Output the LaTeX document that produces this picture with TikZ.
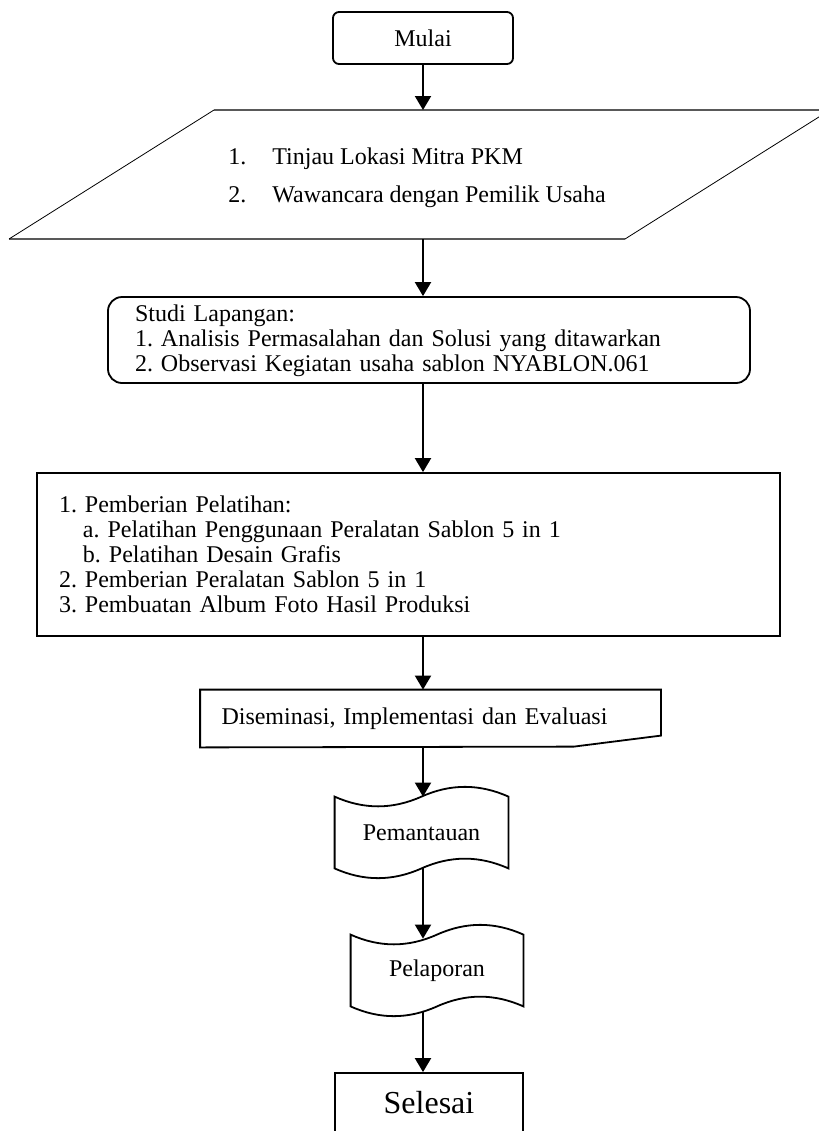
\documentclass[tikz,border=0pt]{standalone}
\usepackage{fontspec}
\setmainfont{Liberation Serif}
\usetikzlibrary{arrows.meta,calc}

\tikzset{
  txt/.style={font=\fontsize{12}{12.5}\selectfont, inner sep=0pt},
  boxline/.style={line width=0.9pt},
  flowarrow/.style={line width=1pt, -{Triangle[width=8pt,length=7pt]}},
}

\begin{document}
\frenchspacing
\begin{tikzpicture}[x=0.5pt,y=-0.5pt]
\useasboundingbox (0,0) rectangle (819,1131);

\node[txt, draw, boxline, rounded corners=3pt, minimum width=90pt, minimum height=26pt] (mulai) at (423,38) {Mulai};

\draw[black!65, line width=0.6pt] (214,110) -- (830,110);
\draw[black!65, line width=0.6pt] (9,239) -- (625,239);
\draw[line width=0.4pt] (214,110) -- (9,239);
\draw[line width=0.4pt] (830,110) -- (625,239);
\coordinate (paratop) at (423,110);
\coordinate (parabot) at (423,239);
\node[txt, anchor=west, align=left, font=\fontsize{12}{19}\selectfont] (tinjau) at (228,178)
  {\makebox[22pt][l]{1.}Tinjau Lokasi Mitra PKM\\\makebox[22pt][l]{2.}Wawancara dengan Pemilik Usaha};

\node[txt, draw, boxline, rounded corners=7pt, minimum width=321pt, minimum height=43pt,
  text width=294pt, inner xsep=13.5pt, align=left] (studi) at (429,340)
  {\strut Studi Lapangan:\\1. Analisis Permasalahan dan Solusi yang ditawarkan\\2. Observasi Kegiatan usaha sablon NYABLON.061};

\node[txt, draw, boxline, minimum width=371.5pt, minimum height=81.5pt,
  text width=349.5pt, inner xsep=11pt, align=left] (latih) at (408.5,554.5)
  {1. Pemberian Pelatihan:\\
   \hspace*{12pt}a. Pelatihan Penggunaan Peralatan Sablon 5 in 1\\
   \hspace*{12pt}b. Pelatihan Desain Grafis\\
   2. Pemberian Peralatan Sablon 5 in 1\\
   3. Pembuatan Album Foto Hasil Produksi};

\node[txt, minimum width=219.5pt, minimum height=28.5pt, text width=209pt, inner xsep=10.5pt, align=left] (dis) at (430.5,718.5)
  {Diseminasi, Implementasi dan Evaluasi};
\draw[boxline] (dis.north west) -- (dis.north east) -- ++(0,46) -- ++(-87,11) -- (dis.south west) -- cycle;

\node[txt, minimum width=86.5pt, minimum height=35.5pt] (pem) at (421.5,832.5) {Pemantauan};
\draw[boxline] (pem.north west) .. controls +(29,13) and +(-29,13) .. (pem.north)
  .. controls +(29,-13) and +(-29,-13) .. (pem.north east) -- (pem.south east)
  .. controls +(-29,-13) and +(29,-13) .. (pem.south)
  .. controls +(-29,13) and +(29,13) .. (pem.south west) -- cycle;

\node[txt, minimum width=86pt, minimum height=35.5pt] (pel) at (437,970.5) {Pelaporan};
\draw[boxline] (pel.north west) .. controls +(29,13) and +(-29,13) .. (pel.north)
  .. controls +(29,-13) and +(-29,-13) .. (pel.north east) -- (pel.south east)
  .. controls +(-29,-13) and +(29,-13) .. (pel.south)
  .. controls +(-29,13) and +(29,13) .. (pel.south west) -- cycle;

\node[txt, draw, boxline, font=\fontsize{16}{16}\selectfont, minimum width=94pt, minimum height=30pt] (sel) at (429,1103) {Selesai};

\draw[flowarrow] (mulai.south) -- (mulai.south |- paratop);
\draw[flowarrow] (parabot) -- (parabot |- studi.north);
\draw[flowarrow] (studi.south -| mulai) -- (latih.north -| mulai);
\draw[flowarrow] (latih.south -| mulai) -- (dis.north -| mulai);
\draw[flowarrow] (dis.south -| mulai) -- (pem.north -| mulai);
\draw[flowarrow, shorten >=-2pt] (pem.south -| mulai) -- (pel.north -| mulai);
\draw[flowarrow, shorten <=2.5pt] (pel.south -| mulai) -- (sel.north -| mulai);
\end{tikzpicture}
\end{document}
